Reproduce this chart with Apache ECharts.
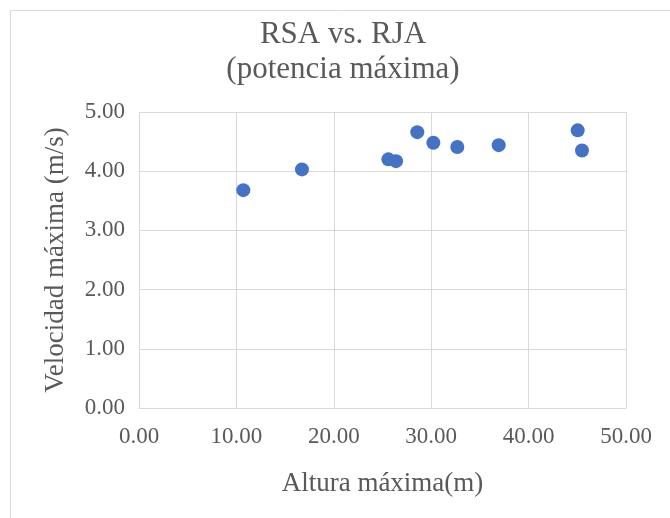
<!DOCTYPE html>
<html>
<head>
<meta charset="utf-8">
<script src="https://cdn.jsdelivr.net/npm/echarts@6/dist/echarts.min.js"></script>
<style>
  html, body { margin: 0; padding: 0; background: #fff; }
  #chart { width: 670px; height: 518px; }
</style>
</head>
<body>
<div id="chart"></div>
<script>
// Altura máxima (m) vs Velocidad máxima (m/s)
const altura = [10.71, 16.73, 25.6, 26.39, 28.57, 30.22, 32.68, 36.93, 45.04, 45.48]
const velocidad = [3.68, 4.03, 4.2, 4.17, 4.66, 4.48, 4.41, 4.44, 4.69, 4.35]
const xTicks = [0, 10, 20, 30, 40, 50]
const yTicks = [0, 1, 2, 3, 4, 5]

const textColor = '#595959'
const gridColor = '#d9d9d9'
const font = '"Liberation Serif", "Times New Roman", serif'

const chart = echarts.init(document.getElementById('chart'))

const points = altura.map((x, i) => [x, velocidad[i]])

chart.setOption({
  animation: false,
  backgroundColor: '#fff',
  title: {
    text: 'RSA vs. RJA\n(potencia máxima)',
    left: 338,
    top: 12,
    textAlign: 'center',
    textStyle: {
      fontFamily: font,
      fontSize: 31,
      fontWeight: 'normal',
      color: textColor,
      lineHeight: 35,
    },
  },
  graphic: [
    {
      type: 'rect',
      shape: { x: 10.5, y: 10.5, width: 700, height: 600 },
      style: { fill: 'none', stroke: gridColor, lineWidth: 1 },
      silent: true,
      z: -1,
    },
  ],
  grid: {
    left: 139,
    right: 44,
    top: 112,
    bottom: 110,
  },
  xAxis: {
    type: 'value',
    min: xTicks[0],
    max: xTicks[xTicks.length - 1],
    interval: 10,
    name: 'Altura máxima(m)',
    nameLocation: 'middle',
    nameGap: 62,
    nameTextStyle: { fontFamily: font, fontSize: 27, color: textColor },
    axisLine: { show: true, lineStyle: { color: gridColor } },
    axisTick: { show: false },
    axisLabel: {
      margin: 17,
      fontFamily: font,
      fontSize: 23,
      color: textColor,
      formatter: (v) => v.toFixed(2),
    },
    splitLine: { show: true, lineStyle: { color: gridColor } },
  },
  yAxis: {
    type: 'value',
    min: yTicks[0],
    max: yTicks[yTicks.length - 1],
    interval: 1,
    name: 'Velocidad máxima (m/s)',
    nameLocation: 'middle',
    nameGap: 70,
    nameTextStyle: { fontFamily: font, fontSize: 27, color: textColor },
    axisLine: { show: false },
    axisTick: { show: false },
    axisLabel: {
      margin: 14,
      fontFamily: font,
      fontSize: 23,
      color: textColor,
      formatter: (v) => v.toFixed(2),
    },
    splitLine: { show: true, lineStyle: { color: gridColor } },
  },
  series: [
    {
      type: 'scatter',
      data: points,
      symbolSize: 14,
      itemStyle: { color: '#4472C4', opacity: 1 },
    },
  ],
})
</script>
</body>
</html>
